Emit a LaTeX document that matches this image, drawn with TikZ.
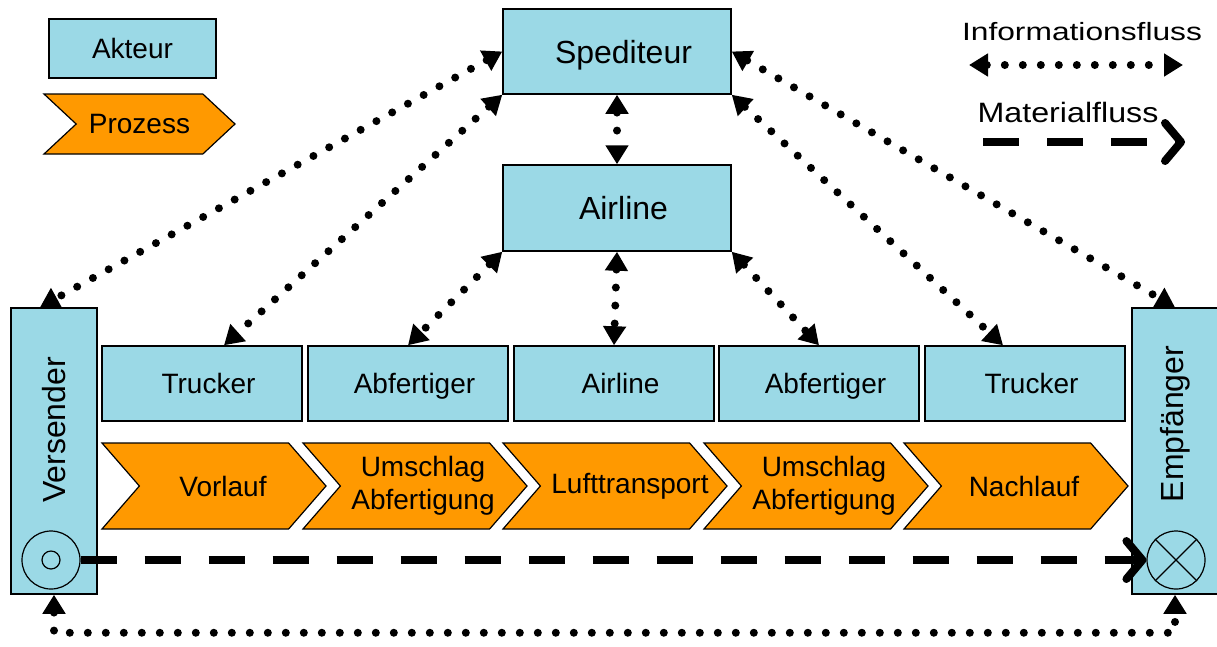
\documentclass[tikz,border=0pt]{standalone}
\usepackage{fontspec}
\usepackage{graphicx}
\setmainfont{Liberation Sans}
\usetikzlibrary{arrows.meta,shapes.symbols,calc}

\definecolor{akteurblau}{RGB}{155,217,230}
\definecolor{prozessorange}{RGB}{255,153,0}

\tikzset{
  akteur/.style={draw, line width=1.5pt, fill=akteurblau, inner sep=0pt,
    font=\fontsize{28}{32}\selectfont, text height=20pt, text depth=0pt},
  akteurgross/.style={akteur, font=\fontsize{32}{36}\selectfont, text height=23pt},
  textrechts/.style={execute at begin node={\hspace*{13pt}}},
  prozess/.style={shape=signal, signal from=west, signal to=east,
    signal pointer angle=98, draw, line width=1.2pt, fill=prozessorange,
    minimum width=224pt, minimum height=86pt, inner sep=0pt,
    font=\fontsize{28}{33}\selectfont},
  prozesstext/.style={align=center, inner sep=0pt, xshift=#1,
    font=\fontsize{28}{33}\selectfont},
  info/.style={{Triangle[length=19pt,width=22pt]}-{Triangle[length=19pt,width=22pt]},
    line width=8pt, line cap=round, dash pattern=on 0pt off 18pt},
  material/.style={-{Straight Barb[length=16pt,width=38pt,round]},
    line width=8pt, dash pattern=on 36pt off 28pt},
}

\begin{document}
\begin{tikzpicture}[x=1pt, y=-1pt]
    \useasboundingbox (0,0) rectangle (1217,646);

    % Legende
    \node[akteur, minimum width=167pt, minimum height=59pt] (legakteur) at (132.5,48.5) {Akteur};
    \node[prozess, signal pointer angle=86, minimum width=191pt, minimum height=60pt] (legprozess) at (139.5,124) {Prozess};
    \node[anchor=base, font=\fontsize{25}{30}\selectfont] (infotext) at (1082,40) {\scalebox{1.27}[1]{Informationsfluss}};
    \node[anchor=base, font=\fontsize{28}{32}\selectfont] (materialtext) at (1068,122) {\scalebox{1.15}[1]{Materialfluss}};
    \coordinate (infoL) at (969,65);
    \coordinate (infoR) at (1183,65);
    \coordinate (matL) at (983,142);
    \coordinate (matR) at (1185,142);
    \draw[info] (infoL) -- (infoR);
    \draw[material] (matL) -- (matR);

    % Akteure oben
    \node[akteurgross, textrechts, minimum width=228pt, minimum height=85pt] (spediteur) at (617,51.5) {Spediteur};
    \node[akteurgross, textrechts, minimum width=228pt, minimum height=86pt] (airline) at (617,208) {Airline};

    % Versender und Empfaenger
    \node[akteur, minimum width=86pt, minimum height=286pt] (versender) at (54,451) {};
    \node[akteur, minimum width=86pt, minimum height=286pt] (empfaenger) at (1175,451) {};
    \node[rotate=90, font=\fontsize{32}{36}\selectfont] (versendertext) at (54,430) {Versender};
    \node[rotate=90, font=\fontsize{32}{36}\selectfont] (empfaengertext) at (1175,424) {Empfänger};
    \node[circle, draw, line width=1.2pt, minimum size=58pt, inner sep=0pt] (quelle) at (51,560) {};
    \node[circle, draw, line width=1.2pt, minimum size=18pt, inner sep=0pt] (quellepunkt) at (51,560) {};
    \node[circle, draw, line width=1.2pt, minimum size=58pt, inner sep=0pt] (senke) at (1176,560) {};
    \draw[line width=1.2pt] (senke.north west) -- (senke.south east);
    \draw[line width=1.2pt] (senke.north east) -- (senke.south west);

    % Akteure der Kette
    \node[akteur, textrechts, minimum width=200pt, minimum height=75pt] (trucker1) at (202,383.5) {Trucker};
    \node[akteur, textrechts, minimum width=200pt, minimum height=75pt] (abfertiger1) at (408,383.5) {Abfertiger};
    \node[akteur, textrechts, minimum width=200pt, minimum height=75pt] (airline2) at (614,383.5) {Airline};
    \node[akteur, textrechts, minimum width=200pt, minimum height=75pt] (abfertiger2) at (819,383.5) {Abfertiger};
    \node[akteur, textrechts, minimum width=200pt, minimum height=75pt] (trucker2) at (1025,383.5) {Trucker};

    % Prozesse
    \node[prozess, label={[prozesstext=9pt]center:Vorlauf}] (vorlauf) at (214,486) {};
    \node[prozess, label={[prozesstext=8pt]center:Umschlag\\Abfertigung}] (umschlag1) at (415,486) {};
    \node[prozess, label={[prozesstext=15pt]center:Lufttransport}] (lufttransport) at (615,486) {};
    \node[prozess, label={[prozesstext=8pt]center:Umschlag\\Abfertigung}] (umschlag2) at (816,486) {};
    \node[prozess, label={[prozesstext=8pt]center:Nachlauf}] (nachlauf) at (1016,486) {};

    % Informationsfluss
    \draw[info] (spediteur.west) -- ($(versender.north)+(-14,0)$);
    \draw[info] (spediteur.south west) -- ($(trucker1.north)+(22,0)$);
    \draw[info] (spediteur.south) -- (airline.north);
    \draw[info] (spediteur.south east) -- ($(trucker2.north)+(-22,0)$);
    \draw[info] (spediteur.east) -- (empfaenger.north);
    \draw[info] (airline.south west) -- (abfertiger1.north);
    \draw[info] (airline.south) -- (airline2.north);
    \draw[info] (airline.south east) -- (abfertiger2.north);
    \draw[info] (versender.south) -- ++(0,38) -| (empfaenger.south);

    % Materialfluss
    \draw[material] (quelle.east) -- (senke.west);
\end{tikzpicture}
\end{document}
